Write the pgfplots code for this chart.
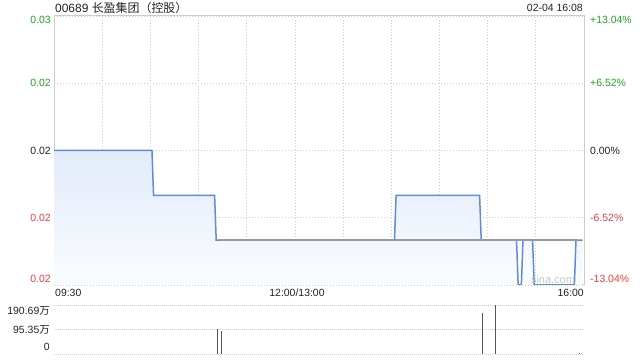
\documentclass[border=0pt]{standalone}
\usepackage{pgfplots}
\pgfplotsset{compat=1.18}
\usepackage{fontspec}
\setmainfont{Liberation Sans}
\newfontfamily\cjk{Noto Sans CJK SC}
\definecolor{gridc}{HTML}{CCCCCC}
\definecolor{upc}{HTML}{1FA51F}
\definecolor{dnc}{HTML}{F23C3C}
\definecolor{linec}{HTML}{5F8CD7}
\definecolor{avgc}{HTML}{9A9A9A}
\definecolor{txt}{HTML}{222222}
\definecolor{fillt}{HTML}{E2EBFA}
\definecolor{fillb}{HTML}{FAFCFF}
\definecolor{volc}{HTML}{555555}
\begin{document}
\begin{tikzpicture}
\path[use as bounding box] (0bp,0bp) rectangle (640bp,360bp);
% main price panel
\begin{axis}[
  at={(54bp,75bp)}, anchor=south west, width=530bp, height=269bp, scale only axis,
  xmin=0, xmax=330, ymin=0.020, ymax=0.026,
  scaled ticks=false,
  xtick={0,30,...,330}, xticklabels={},
  ytick={0.020,0.0215,0.023,0.0245,0.026}, yticklabels={},
  grid=major, major grid style={gridc, dash pattern=on 1bp off 2bp, line width=0.8bp},
  axis line style={gridc, line width=1bp},
  major tick length=0pt,
  extra y ticks={0.02013,0.0215,0.023,0.0245,0.02591},
  extra y tick labels={{\color{dnc}0.02},{\color{dnc}0.02},{\color{txt}0.02},{\color{upc}0.02},{\color{upc}0.03}},
  extra y tick style={grid=none},
  yticklabel style={font=\fontsize{10.5}{12}\selectfont, inner sep=0pt, xshift=-3bp},
  /pgf/number format/assume math mode=true,
]
\addplot[draw=none, top color=fillt, bottom color=fillb] coordinates {
 (0,0.020) (0,0.023) (61,0.023) (62,0.022) (100,0.022) (101,0.021) (212,0.021) (213,0.022)
 (265,0.022) (266,0.021) (288,0.021) (289,0.020) (291,0.020) (292,0.021) (298,0.021)
 (299,0.020) (324,0.020) (325,0.021) (329,0.021) (329,0.020)} -- cycle;
\addplot[linec, line width=1.5bp] coordinates {
 (0,0.023) (61,0.023) (62,0.022) (100,0.022) (101,0.021) (212,0.021) (213,0.022)
 (265,0.022) (266,0.021) (288,0.021) (289,0.020) (291,0.020) (292,0.021) (298,0.021)
 (299,0.020) (324,0.020) (325,0.021) (329,0.021)};
\addplot[avgc, line width=1.5bp] coordinates {(103,0.021) (326,0.021)};
\end{axis}
% right-hand percent labels
\begin{axis}[
  at={(54bp,75bp)}, anchor=south west, width=530bp, height=269bp, scale only axis,
  xmin=0, xmax=330, ymin=0.020, ymax=0.026,
  scaled ticks=false,
  axis x line=none, axis y line*=right, y axis line style={draw=none},
  major tick length=0pt,
  ytick={0.02013,0.0215,0.023,0.0245,0.02591},
  yticklabels={{\color{dnc}-13.04\%},{\color{dnc}-6.52\%},{\color{txt}0.00\%},{\color{upc}+6.52\%},{\color{upc}+13.04\%}},
  yticklabel style={font=\fontsize{10.5}{12}\selectfont, inner sep=0pt, anchor=west, xshift=6bp},
]
\addplot[draw=none] coordinates {(0,0.023)};
\end{axis}
% volume panel
\begin{axis}[
  at={(54bp,6bp)}, anchor=south west, width=530bp, height=49bp, scale only axis,
  xmin=0, xmax=330, ymin=0, ymax=190.69,
  scaled ticks=false,
  xtick=\empty,
  ytick={0,95.35,190.69}, yticklabels={},
  ymajorgrids, major grid style={gridc, dash pattern=on 1bp off 1bp, line width=0.8bp},
  x axis line style={draw=none}, y axis line style={gridc, line width=1bp},
  major tick length=0pt,
  extra y ticks={27,95.35,168.5},
  extra y tick labels={{0},{95.35{\cjk 万}},{190.69{\cjk 万}}},
  extra y tick style={grid=none},
  yticklabel style={font=\fontsize{10.5}{12}\selectfont, inner sep=0pt, xshift=-4bp, text=txt},
  /pgf/number format/assume math mode=true,
]
\addplot[ycomb, volc, line width=0.9bp] coordinates {(101.5,97) (104.5,88) (266.5,160) (275,190.69) (327,4)};
\end{axis}
% titles and time labels
\node[anchor=west, inner sep=0pt, text=txt, font=\fontsize{12}{14}\selectfont] at (55bp,352bp) {00689 {\cjk 长盈集团（控股）}};
\node[anchor=east, inner sep=0pt, text=txt, font=\fontsize{10.5}{12}\selectfont] at (583bp,352bp) {02-04 16:08};
\node[anchor=west, inner sep=0pt, text=txt, font=\fontsize{10.5}{12}\selectfont] at (55bp,67bp) {09:30};
\node[anchor=center, inner sep=0pt, text=txt, font=\fontsize{10.5}{12}\selectfont] at (297bp,67bp) {12:00/13:00};
\node[anchor=east, inner sep=0pt, text=txt, font=\fontsize{10.5}{12}\selectfont] at (584bp,67bp) {16:00};
\node[anchor=center, inner sep=0pt, text=black!22, font=\fontsize{11}{13}\selectfont] at (553bp,80bp) {sina.com};
\end{tikzpicture}
\end{document}
